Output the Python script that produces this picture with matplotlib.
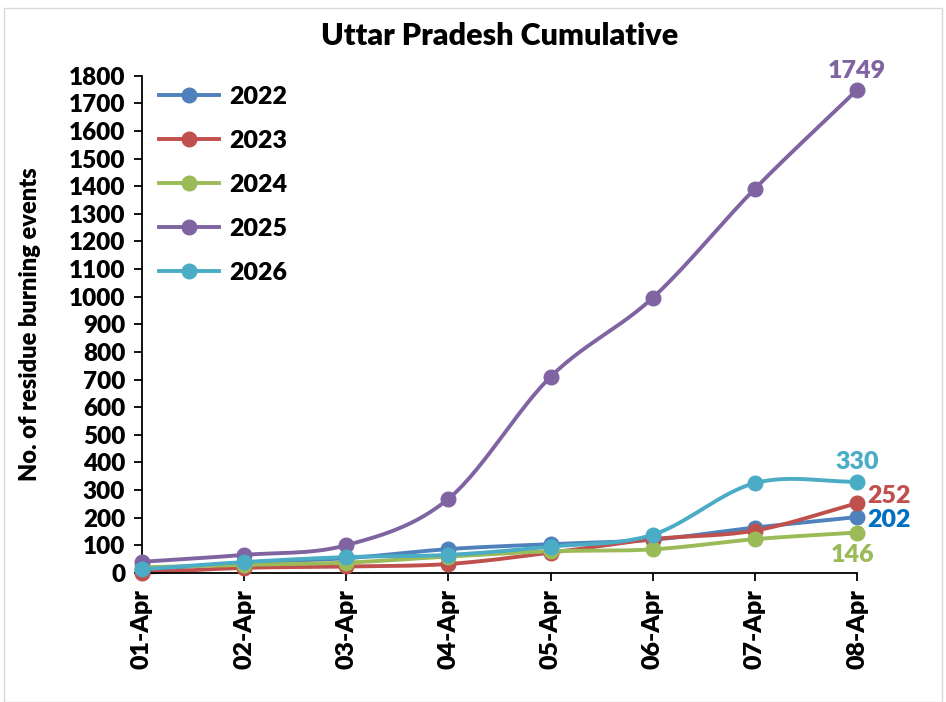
import numpy as np
import matplotlib
matplotlib.use('Agg')
import matplotlib.pyplot as plt
from matplotlib.patches import Rectangle

plt.rcParams['font.family'] = ['Lato', 'DejaVu Sans']
plt.rcParams['font.weight'] = 'heavy'
W = 'heavy'

days = ['01-Apr', '02-Apr', '03-Apr', '04-Apr', '05-Apr', '06-Apr', '07-Apr', '08-Apr']
y2022 = [10, 37, 53, 86, 104, 120, 164, 202]
y2023 = [0, 18, 23, 32, 73, 122, 153, 252]
y2024 = [20, 29, 37, 59, 78, 85, 122, 146]
y2025 = [40, 65, 100, 268, 710, 996, 1391, 1749]
y2026 = [13, 39, 57, 65, 95, 138, 325, 330]

years = ['2022', '2023', '2024', '2025', '2026']
colors = ['#4F81BD', '#C0504D', '#9BBB59', '#8064A2', '#4BACC6']


def smooth(x, y, n=30):
    # Catmull-Rom curve through the points (like Excel smoothed line)
    x = np.asarray(x, float)
    y = np.asarray(y, float)
    px = np.concatenate([[2*x[0]-x[1]], x, [2*x[-1]-x[-2]]])
    py = np.concatenate([[2*y[0]-y[1]], y, [2*y[-1]-y[-2]]])
    xs, ys = [], []
    t = np.linspace(0, 1, n)
    for i in range(1, len(px)-2):
        for arr, out in ((px, xs), (py, ys)):
            p0, p1, p2, p3 = arr[i-1], arr[i], arr[i+1], arr[i+2]
            out.append(0.5*((2*p1) + (-p0+p2)*t + (2*p0-5*p1+4*p2-p3)*t**2 + (-p0+3*p1-3*p2+p3)*t**3))
    return np.concatenate(xs), np.concatenate(ys)


fig = plt.figure(figsize=(9.46, 7.02), dpi=100)
ax = fig.add_axes([0.150, 0.184, 0.756, 0.708])
fig.patches.append(Rectangle((0.004, 0.0), 0.992, 0.988, transform=fig.transFigure,
                             fill=False, edgecolor='#D9D9D9', linewidth=1))

x = np.arange(len(days))
series = [y2022, y2023, y2024, y2025, y2026]
for yr, vals, c in zip(years, series, colors):
    sx, sy = smooth(x, vals)
    ax.plot(sx, sy, color=c, lw=2.8, zorder=2, clip_on=False)
    ax.plot(x, vals, 'o', color=c, ms=10.5, zorder=3, clip_on=False)
    ax.plot([], [], '-o', color=c, lw=2.8, ms=10.5, label=yr)

lab_kw = dict(textcoords='offset points', fontsize=18, fontweight=W)
ax.annotate('1749', (x[-1], y2025[-1]), xytext=(0, 6), ha='center', va='bottom',
            color='#8064A2', **lab_kw)
ax.annotate('330', (x[-1], y2026[-1]), xytext=(0, 6), ha='center', va='bottom',
            color='#4BACC6', **lab_kw)
ax.annotate('252', (x[-1], y2023[-1]), xytext=(7, 5), ha='left', va='center',
            color='#C0504D', **lab_kw)
ax.annotate('202', (x[-1], y2022[-1]), xytext=(7, -2), ha='left', va='center',
            color='#0070C0', **lab_kw)
ax.annotate('146', (x[-1], y2024[-1]), xytext=(-3, -8), ha='center', va='top',
            color='#9BBB59', **lab_kw)

ax.set_xlim(0, len(days)-1)
ax.set_ylim(0, 1800)
ax.set_yticks(np.arange(0, 1801, 100))
ax.set_xticks(x)
ax.set_xticklabels(days, rotation=90, fontsize=18, fontweight=W)
ax.tick_params(axis='y', labelsize=17.5, direction='out', length=6, width=1.3, pad=6)
ax.tick_params(axis='x', direction='out', length=6, width=1.3, pad=6)
for lab in ax.get_yticklabels():
    lab.set_fontweight(W)
ax.spines['top'].set_visible(False)
ax.spines['right'].set_visible(False)
ax.spines['left'].set_linewidth(1.3)
ax.spines['bottom'].set_linewidth(1.3)

ax.set_ylabel('No. of residue burning events', fontsize=17, fontweight=W, labelpad=20)
ax.set_title('Uttar Pradesh Cumulative', fontsize=22, fontweight=W, pad=22)

ax.legend(loc='upper left', frameon=False, fontsize=18, labelspacing=0.88,
          handlelength=2.4, handletextpad=0.4, bbox_to_anchor=(0.0, 1.015), borderaxespad=0.3)

fig.savefig('out.png', dpi=100)
